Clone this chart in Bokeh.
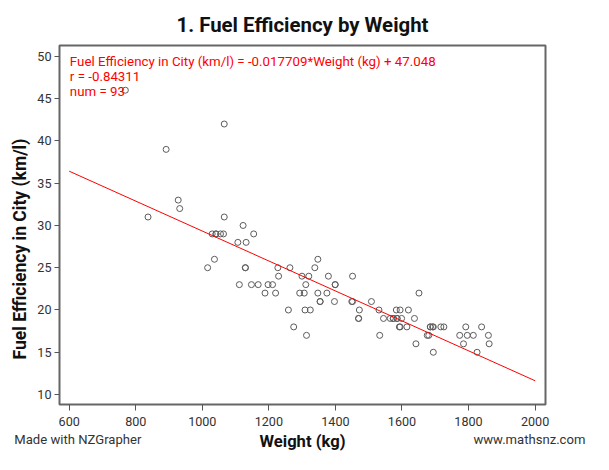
import math
from bokeh.plotting import figure
from bokeh.models import Range1d, FixedTicker, Label, Title, LinearAxis
from bokeh.embed import file_html
from bokeh.resources import INLINE

# Data: weight (kg) and city fuel efficiency for 93 cars
weight_kg = [1227.0, 1614.8, 1530.9, 1544.5, 1651.1, 1306.3, 1574.0, 1862.0, 1585.3, 1642.0,
             1784.9, 1129.4, 1263.3, 1469.6, 1449.2, 1685.1, 1825.7, 1773.5, 1533.1, 1594.4,
             1399.3, 1619.3, 1029.7, 1211.1, 1347.2, 1680.6, 1397.1, 1725.9, 1041.0, 1583.0,
             836.9, 1147.6, 1220.2, 1292.7, 1229.2, 1694.2, 1508.2, 1791.7, 768.8, 1122.6,
             1299.5, 1065.9, 1378.9, 1063.7, 1188.4, 1036.5, 1308.6, 1814.4, 1592.1, 1594.4,
             1676.0, 1839.3, 1054.6, 1106.8, 1347.2, 1694.2, 1313.1, 1324.5, 1598.9, 1111.3,
             1637.5, 1041.0, 1691.9, 1154.4, 1451.5, 1859.7, 1451.5, 1320.0, 1310.9, 1685.1,
             1574.0, 1197.5, 1065.9, 1168.0, 1469.6, 1564.9, 1585.3, 1258.7, 1131.7, 927.6,
             1129.4, 1399.3, 891.3, 932.1, 1338.1, 1374.4, 1716.8, 1016.0, 1796.2, 1354.0,
             1274.6, 1354.0, 1471.9]
fuel_city = [25, 18, 20, 19, 22, 22, 19, 16, 19, 16,
             16, 25, 25, 19, 21, 18, 15, 17, 17, 20,
             23, 20, 29, 23, 22, 17, 21, 18, 29, 20,
             31, 23, 22, 22, 24, 15, 21, 18, 46, 30,
             24, 42, 24, 29, 22, 26, 20, 17, 18, 18,
             17, 18, 29, 28, 26, 18, 17, 20, 19, 23,
             19, 29, 18, 29, 24, 17, 21, 24, 23, 18,
             19, 23, 31, 23, 19, 19, 19, 20, 28, 33,
             25, 23, 39, 32, 25, 22, 18, 25, 17, 21,
             18, 21, 20]

x_ticks = [600, 800, 1000, 1200, 1400, 1600, 1800, 2000]
y_ticks = [10, 15, 20, 25, 30, 35, 40, 45, 50]

slope = -0.017709
intercept = 47.048
r_value = -0.84311
fit_x = [600, 2000]
fit_y = [slope * xv + intercept for xv in fit_x]

title_text = "1. Fuel Efficiency by Weight"
x_label = "Weight (kg)"
y_label = "Fuel Efficiency in City (km/l)"
footer_left = "Made with NZGrapher"
footer_right = "www.mathsnz.com"

FONT = "Roboto"

p = figure(width=593, height=454, output_backend="svg", toolbar_location=None,
           x_range=Range1d(570.85, 2031.3), y_range=Range1d(8.82, 51.29),
           min_border_left=59, min_border_right=48, min_border_top=45,
           min_border_bottom=50, background_fill_color="white",
           border_fill_color="white")

p.title.text = title_text
p.title.align = "center"
p.title.text_font = FONT
p.title.text_font_size = "20.4px"
p.title.text_font_style = "bold"
p.title.text_color = "#111111"
p.title.standoff = 18

p.add_layout(Title(text=y_label, align="left", offset=45, standoff=9,
                   text_font=FONT, text_font_size="17.5px", text_font_style="bold",
                   text_color="#111111"), "left")

p.xgrid.visible = False
p.ygrid.visible = False
p.outline_line_color = "#666666"
p.outline_line_width = 2

p.xaxis.ticker = FixedTicker(ticks=x_ticks)
p.yaxis.ticker = FixedTicker(ticks=y_ticks)
for ax in (p.xaxis, p.yaxis):
    ax.axis_line_color = None
    ax.major_tick_line_color = "#555555"
    ax.major_tick_in = 0
    ax.minor_tick_line_color = None
    ax.major_label_text_font = FONT
    ax.major_label_text_font_size = "12.6px"
    ax.major_label_text_color = "#333333"
p.xaxis.major_tick_out = 6
p.xaxis.major_label_standoff = 6
p.yaxis.major_tick_out = 5
p.yaxis.major_label_standoff = 3

# footer row: credit and website as labels of a bare axis, x title on the same row
foot_pos = [626, 1983]
foot_axis = LinearAxis(ticker=FixedTicker(ticks=foot_pos),
                       major_label_overrides={foot_pos[0]: footer_left,
                                              foot_pos[1]: footer_right},
                       axis_label=x_label,
                       axis_line_color=None, major_tick_line_color=None,
                       minor_tick_line_color=None, major_tick_in=0, major_tick_out=0,
                       major_label_standoff=3,
                       major_label_text_font=FONT, major_label_text_font_size="13.1px",
                       major_label_text_color="#333333",
                       axis_label_standoff=-18,
                       axis_label_text_font=FONT, axis_label_text_font_size="16.6px",
                       axis_label_text_font_style="bold", axis_label_text_color="#111111")
p.add_layout(foot_axis, "below")

p.scatter(x=weight_kg, y=fuel_city, marker="circle", size=6,
          fill_color=None, line_color="#5c5c5c", line_width=1)
p.line(fit_x, fit_y, line_color="red", line_width=1)

eq_lines = [
    "Fuel Efficiency in City (km/l) = %.6f*Weight (kg) + %.3f" % (slope, intercept),
    "r = %.5f" % r_value,
    "num = %d" % len(weight_kg),
]
for txt, yv in zip(eq_lines, [49.43, 47.6, 45.8]):
    p.add_layout(Label(x=602, y=yv, text=txt, text_font=FONT, text_font_size="13.3px",
                       text_color="red", text_baseline="middle", text_align="left"))

open("out.html", "w").write(file_html(p, INLINE))
